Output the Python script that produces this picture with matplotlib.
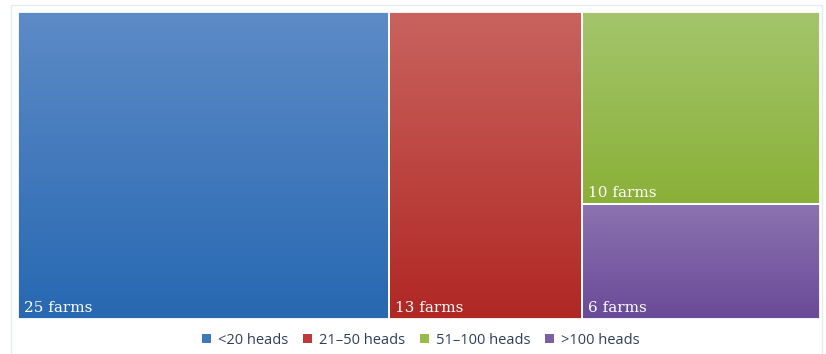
import numpy as np
import matplotlib
matplotlib.use("Agg")
import matplotlib.pyplot as plt
from matplotlib.colors import LinearSegmentedColormap
from matplotlib.patches import Patch, Rectangle

# Farm counts by herd size
categories = ["<20 heads", "21\u201350 heads", "51\u2013100 heads", ">100 heads"]
farms = [25, 13, 10, 6]
labels = [f"{v} farms" for v in farms]

# Gradient colours (top, bottom) and legend colours per category
top_colors = ["#5D8BC7", "#C9635E", "#A4C56C", "#8C73B0"]
bottom_colors = ["#2768B1", "#B02724", "#8AB038", "#6A4A98"]
legend_colors = ["#3E78BD", "#C0393A", "#97BB4D", "#7D5FA7"]

W, H = 100.0, 100.0
total = sum(farms)


def layout(values):
    """First two blocks as full-height columns, the rest stacked in the last column."""
    rects = []
    x = 0.0
    for v in values[:2]:
        w = W * v / total
        rects.append((x, 0.0, w, H))
        x += w
    rest = values[2:]
    rw = W - x
    rsum = sum(rest)
    y = H
    for v in rest:
        h = H * v / rsum
        y -= h
        rects.append((x, y, rw, h))
    return rects


fig = plt.figure(figsize=(8.26, 3.54), dpi=100)
fig.patch.set_facecolor("white")
fig.patches.append(Rectangle((11 / 826, -0.05), 811 / 826, 1 - 5 / 354 + 0.05,
                             transform=fig.transFigure, fill=False,
                             edgecolor="#E4ECF3", linewidth=1.0))

ax = fig.add_axes([18 / 826, 1 - 319 / 354, 802 / 826, 307 / 354])
grad = np.linspace(0, 1, 256).reshape(-1, 1)

for (x, y, w, h), c0, c1, lab in zip(layout(farms), top_colors, bottom_colors, labels):
    cmap = LinearSegmentedColormap.from_list("g", [c0, c1])
    # origin='upper': first row (top colour) is drawn at the top edge
    ax.imshow(grad, cmap=cmap, aspect="auto", extent=(x, x + w, y, y + h),
              interpolation="bilinear", zorder=1)
    ax.add_patch(Rectangle((x, y), w, h, fill=False, edgecolor="white",
                           linewidth=1.3, zorder=2))
    ax.text(x + 0.75, y + 2.2, lab, color="white", fontsize=11,
            family="DejaVu Serif", ha="left", va="baseline", zorder=3)

ax.set_xlim(0, W)
ax.set_ylim(0, H)
ax.axis("off")

handles = [Patch(facecolor=c, edgecolor="none") for c in legend_colors]
fig.legend(handles, categories, loc="center", bbox_to_anchor=(421 / 826, 1 - 340 / 354),
           ncol=4, frameon=False, handlelength=0.6, handleheight=0.6,
           handletextpad=0.5, columnspacing=1.0,
           prop={"family": "Open Sans", "size": 10.5}, labelcolor="#2F3F5A")

fig.savefig("out.png", dpi=100)
